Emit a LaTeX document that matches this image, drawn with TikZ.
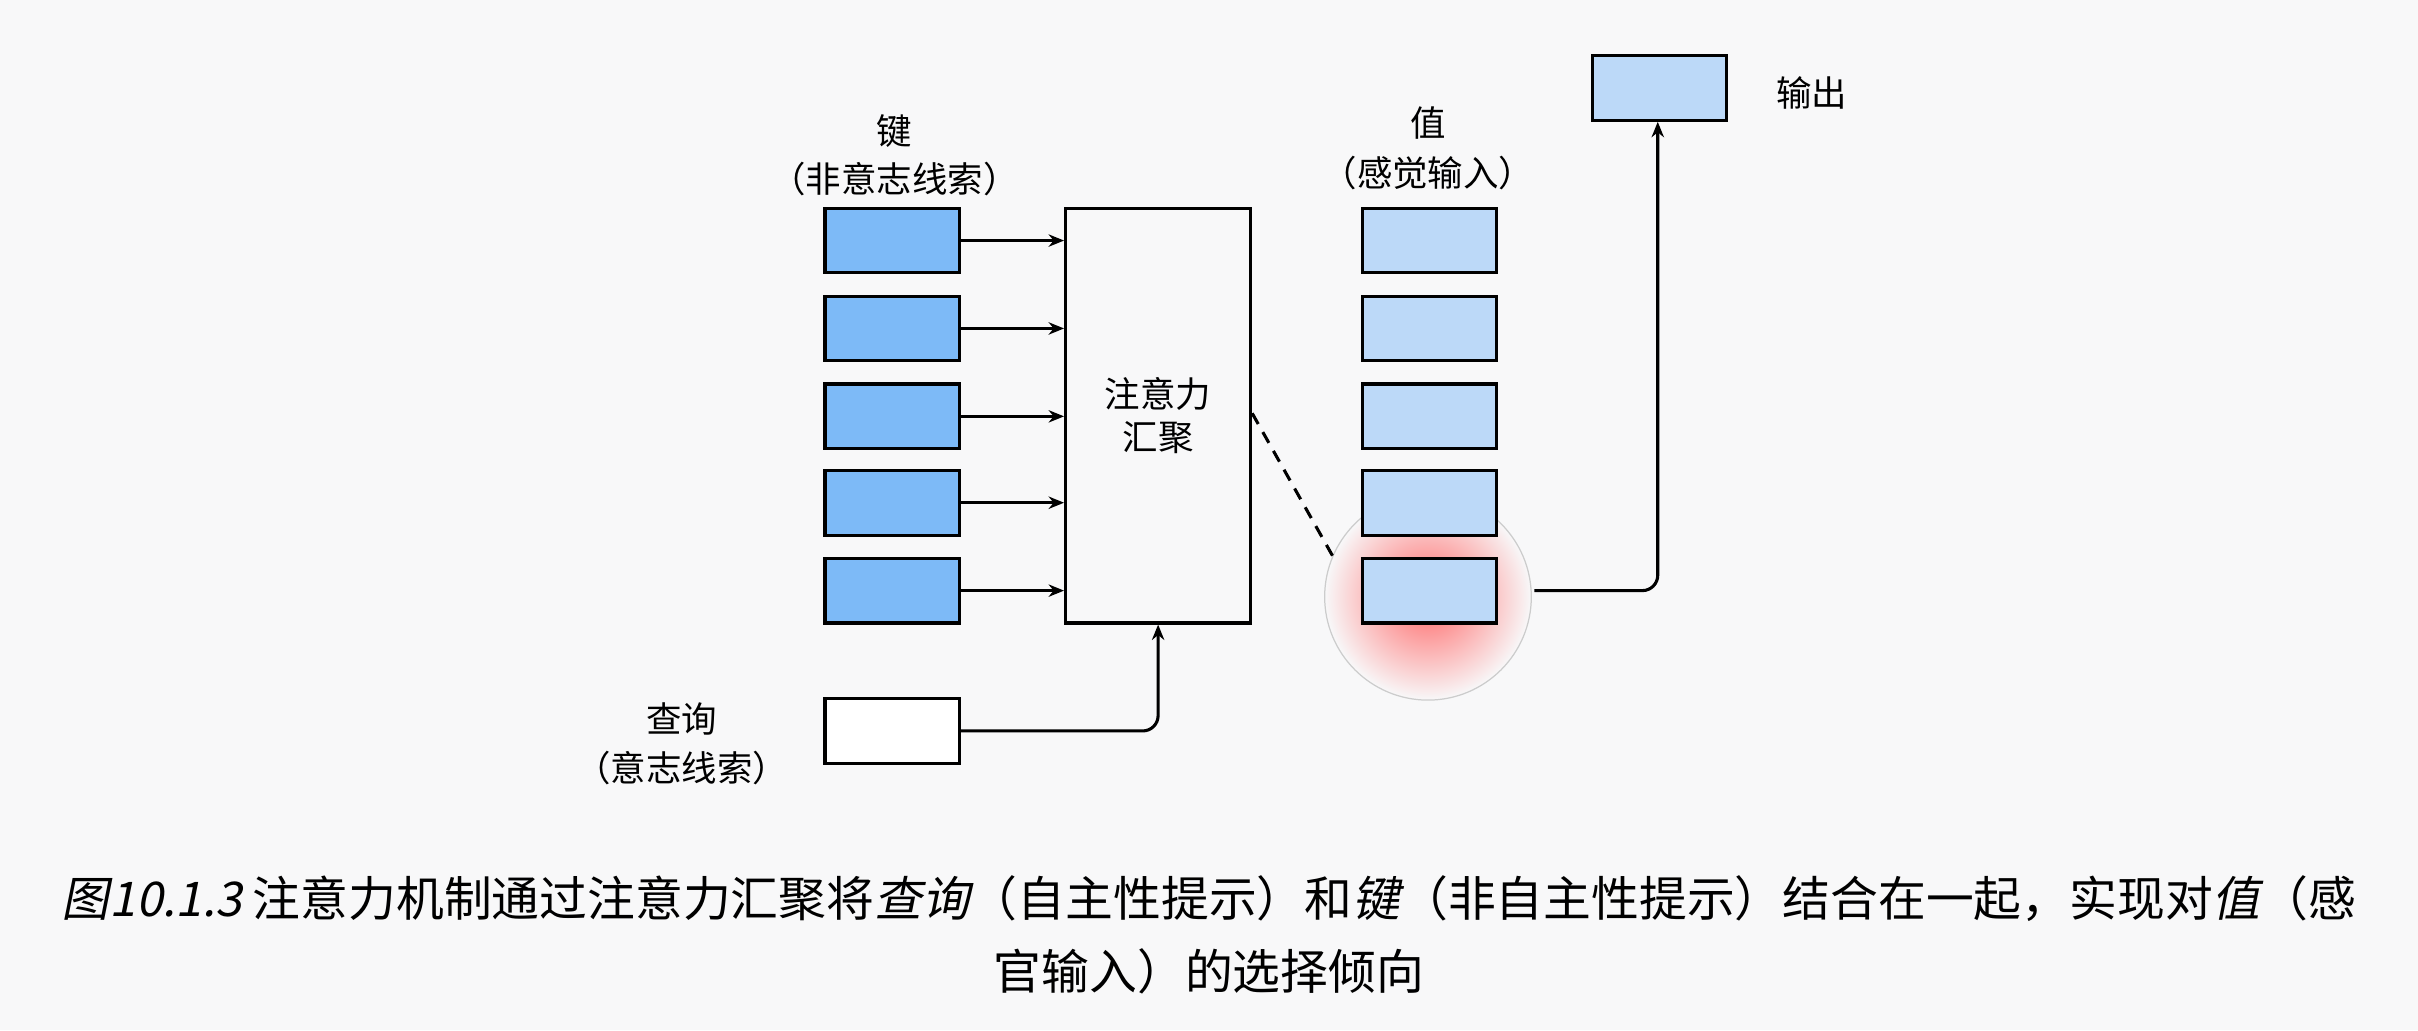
\documentclass[tikz,border=0pt]{standalone}
\usepackage{fontspec}
\setmainfont{Noto Sans CJK SC}
\newfontfamily\cjkit[FakeSlant=0.2]{Noto Sans CJK SC}
\usetikzlibrary{arrows.meta}
\definecolor{bg}{HTML}{F8F8F9}
\definecolor{keyc}{HTML}{7DBAF7}
\definecolor{valc}{HTML}{BCD9F8}
\tikzset{
 box/.style={draw=black,line width=2pt,minimum width=87pt,minimum height=42pt,inner sep=0pt},
 key/.style={box,fill=keyc},
 val/.style={box,fill=valc},
 lab/.style={font=\fontsize{23}{28}\selectfont,align=center},
 arr/.style={line width=2pt,-{Stealth[length=10pt,width=8pt]}},
}
\begin{document}
\begin{tikzpicture}[x=1pt,y=-1pt]
\fill[bg] (0,0) rectangle (1568,668);
\useasboundingbox (0,0) rectangle (1568,668);
% glow
\shade[inner color=red!60!white,outer color=bg] (926,387) circle (67);
\draw[gray!40,line width=0.8pt] (926,387) circle (67);
\foreach \i/\y in {1/156,2/213,3/270,4/326,5/383}{
 \node[key] (k\i) at (578.5,\y) {};
 \node[val] (v\i) at (927,\y) {};
}
\node[box,minimum width=120pt,minimum height=269pt,lab] (att) at (751,269.5) {注意力\\汇聚};
\foreach \i in {1,...,5}{ \draw[arr] (k\i.east) -- (att.west |- k\i.east); }
\node[box,fill=white] (q) at (578.5,474) {};
\draw[arr,rounded corners=10pt] (q.east) -- (att.south |- q.east) -- (att.south);
\draw[line width=2pt,dash pattern=on 8pt off 6pt] (att.east |- 0,268) -- (865,362);
\node[val] (out) at (1076,57) {};
\coordinate (g) at (995,383);
\draw[arr,rounded corners=10pt] (g) -- (1075,383) -- (1075,79);
\node[lab] at (1175,60) {输出};
\node[lab] at (580,85) {键};
\node[lab] at (580,116) {（非意志线索）};
\node[lab] at (926,80) {值};
\node[lab] at (926,112) {（感觉输入）};
\node[lab] at (442,466) {查询};
\node[lab] at (442,498) {（意志线索）};
\node[font=\fontsize{31}{36}\selectfont] at (784,583) {{\cjkit 图10.1.3} 注意力机制通过注意力汇聚将{\cjkit 查询}（自主性提示）和{\cjkit 键}（非自主性提示）结合在一起，实现对{\cjkit 值}（感};
\node[font=\fontsize{31}{36}\selectfont] at (784,630) {官输入）的选择倾向};
\end{tikzpicture}
\end{document}
